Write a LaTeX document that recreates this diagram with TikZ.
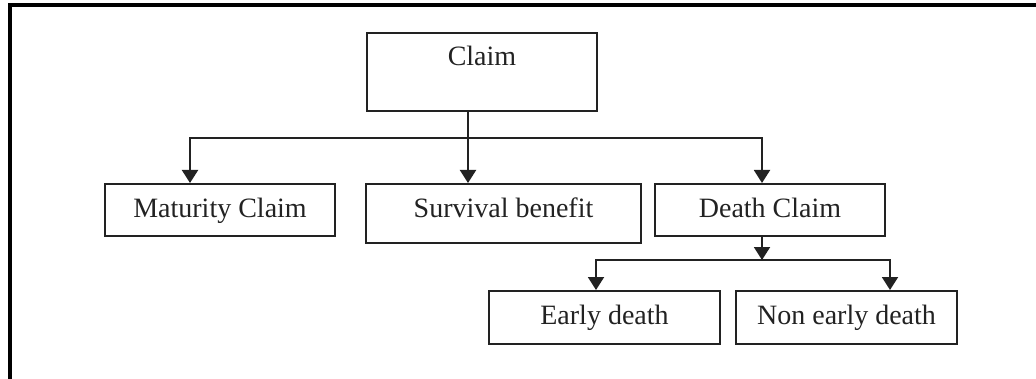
\documentclass[tikz,border=0pt]{standalone}
\usepackage{fontspec}
\setmainfont{Liberation Serif}
\usepackage{tikz}
\usetikzlibrary{arrows.meta, calc}
\usepackage{xcolor}
\definecolor{ink}{RGB}{34,34,34}

\begin{document}
\begin{tikzpicture}[x=0.5pt, y=-0.5pt,
  box/.style={draw=ink, line width=1pt, inner sep=0pt, text=ink, font=\fontsize{14}{16}\selectfont,
    anchor=north, text height=16.5pt, text depth=9.5pt},
  arr/.style={draw=ink, line width=1pt, -{Triangle[width=8pt,length=6.5pt]}}]
  \useasboundingbox (0,0) rectangle (1036,379);
  \draw[line width=1.8pt] (1036,5) -- (10,5) -- (10,379);
  \node[box, minimum width=115pt, text depth=22.5pt] (claim) at (482,32) {Claim};
  \node[box, minimum width=115pt] (maturity) at (220,183) {Maturity Claim};
  \node[box, minimum width=137.5pt, text depth=13pt] (survival) at (503.5,183) {Survival benefit};
  \node[box, minimum width=115pt] (death) at (770,183) {Death Claim};
  \node[box, minimum width=115.5pt, text depth=10pt] (early) at (604.5,290) {Early death};
  \node[box, minimum width=110.5pt, text depth=10pt] (nonearly) at (846.5,290) {Non early death};
  \coordinate (hub) at (468,138);
  \coordinate (hubd) at (762,260);
  \draw[draw=ink, line width=1pt] (claim.south -| hub) -- (hub);
  \draw[arr] (hub) -- (hub |- survival.north);
  \draw[arr] (hub) -| ([xshift=-15pt]maturity.north);
  \draw[arr] (hub) -| ([xshift=-4pt]death.north);
  \draw[arr] (death.south -| hubd) -- (hubd);
  \draw[arr] (hubd) -| ([xshift=-4.25pt]early.north);
  \draw[arr] (hubd) -| ([xshift=21.75pt]nonearly.north);
\end{tikzpicture}
\end{document}
